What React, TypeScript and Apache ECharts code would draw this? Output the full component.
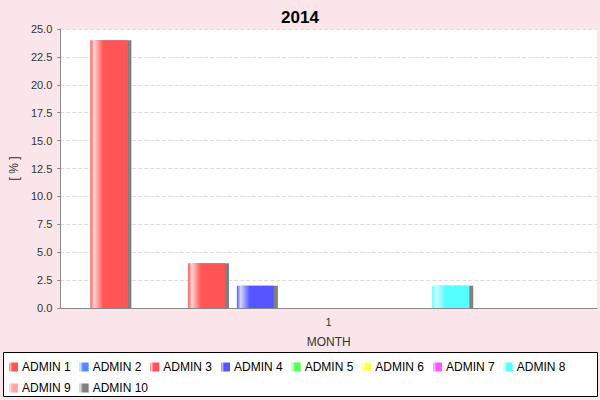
import React, { useEffect, useRef } from 'react';
import * as echarts from 'echarts';

const categories = ['1'];
const seriesNames = ['ADMIN 1', 'ADMIN 2', 'ADMIN 3', 'ADMIN 4', 'ADMIN 5', 'ADMIN 6', 'ADMIN 7', 'ADMIN 8', 'ADMIN 9', 'ADMIN 10'];
const seriesValues = [24, 0, 4, 2, 0, 0, 0, 2, 0, 0];
const seriesColors = ['#ff5555', '#5588ff', '#ff5555', '#5555ff', '#55ff55', '#ffff55', '#ff55ff', '#55ffff', '#ffaaaa', '#808080'];
const yTicks = { min: 0, max: 25, interval: 2.5 };

const lighten = (hex: string) => {
  const n = parseInt(hex.slice(1), 16);
  const r = (n >> 16) & 255, g = (n >> 8) & 255, b = n & 255;
  const f = (c: number) => Math.round(c + (255 - c) * 0.75);
  return `rgb(${f(r)},${f(g)},${f(b)})`;
};

const App: React.FC = () => {
  const chartRef = useRef<HTMLDivElement>(null);

  useEffect(() => {
    document.body.style.margin = '0';
    const chart = echarts.init(chartRef.current!, undefined, { renderer: 'svg' });
    const font = 'Liberation Sans, Arial, sans-serif';

    const option = {
      animation: false,
      backgroundColor: '#fae6ea',
      title: {
        text: '2014',
        left: 'center',
        top: 4,
        textStyle: { fontFamily: font, fontSize: 17, fontWeight: 'bold', color: '#000' },
      },
      graphic: [
        {
          type: 'rect',
          z: 0,
          shape: { x: 3.5, y: 352.5, width: 594, height: 44 },
          style: { fill: '#fff', stroke: '#000', lineWidth: 1 },
        },
      ],
      legend: {
        data: seriesNames,
        z: 10,
        left: 4,
        top: 356,
        width: 594,
        icon: 'rect',
        itemWidth: 9,
        itemHeight: 9,
        itemGap: 9,
        textStyle: { fontFamily: font, fontSize: 12, color: '#000', padding: [0, 0, 0, -1] },
      },
      grid: { left: 60, right: 3, top: 29, bottom: 92, backgroundColor: '#fff', show: true, borderWidth: 0 },
      xAxis: {
        type: 'category',
        data: categories,
        name: 'MONTH',
        nameLocation: 'middle',
        nameGap: 28,
        nameTextStyle: { fontFamily: font, fontSize: 12, color: '#333' },
        axisLine: { lineStyle: { color: '#888' } },
        axisTick: { show: false },
        axisLabel: { fontFamily: font, fontSize: 11, color: '#333' },
      },
      yAxis: {
        type: 'value',
        min: yTicks.min,
        max: yTicks.max,
        interval: yTicks.interval,
        name: '[ % ]',
        nameLocation: 'middle',
        nameGap: 38,
        nameTextStyle: { fontFamily: font, fontSize: 12, color: '#333' },
        axisLine: { show: true, lineStyle: { color: '#888' } },
        axisTick: { show: true, length: 3, lineStyle: { color: '#888' } },
        axisLabel: { fontFamily: font, fontSize: 11, color: '#333', formatter: (v: number) => v.toFixed(1) },
        splitLine: { lineStyle: { color: '#dddddd', type: 'dashed' } },
      },
      series: seriesNames.map((name, i) => ({
        name,
        type: 'bar',
        data: [seriesValues[i]],
        barWidth: 37,
        barGap: '32%',
        itemStyle: {
          color: {
            type: 'linear', x: 0, y: 0, x2: 1, y2: 0,
            colorStops: [
              { offset: 0, color: seriesColors[i] },
              { offset: 0.1, color: lighten(seriesColors[i]) },
              { offset: 0.35, color: seriesColors[i] },
              { offset: 1, color: seriesColors[i] },
            ],
          },
          shadowColor: '#808080',
          shadowOffsetX: 4,
          shadowOffsetY: 0,
          shadowBlur: 0,
        },
      })),
    };

    chart.setOption(option);
    return () => chart.dispose();
  }, []);

  return <div ref={chartRef} style={{ width: 600, height: 400 }} />;
};

export default App;
